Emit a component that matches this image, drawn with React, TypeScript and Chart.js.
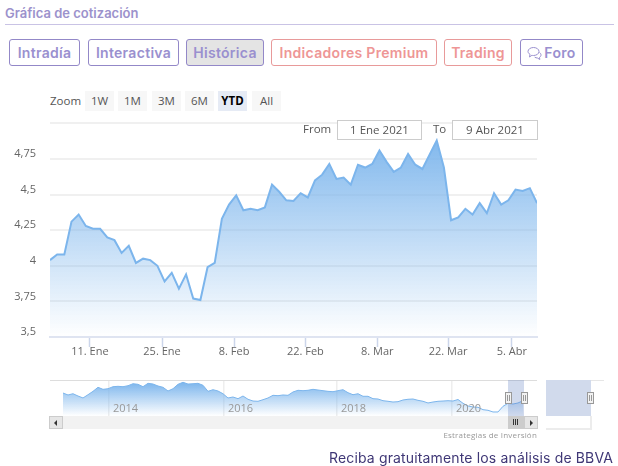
import React, { useEffect, useRef } from "react";
import { Chart, registerables } from "chart.js";

Chart.register(...registerables);

const priceValues = [
  4.04, 4.08, 4.08, 4.31, 4.36, 4.28, 4.26, 4.26, 4.2, 4.18, 4.09, 4.14, 4.02, 4.05, 4.04, 4.0, 3.89, 3.95, 3.84, 3.94,
  3.77, 3.76, 3.99, 4.02, 4.33, 4.43, 4.495, 4.39, 4.4, 4.39, 4.41, 4.57, 4.52, 4.46, 4.455, 4.51, 4.48, 4.6, 4.64,
  4.715, 4.61, 4.62, 4.57, 4.71, 4.69, 4.715, 4.81, 4.73, 4.66, 4.69, 4.785, 4.71, 4.68, 4.78, 4.88, 4.69, 4.32, 4.34,
  4.4, 4.36, 4.44, 4.37, 4.51, 4.43, 4.46, 4.535, 4.525, 4.545, 4.44,
];
const xTickSessions = [5.58, 15.64, 25.7, 35.66, 45.7, 55.6, 64.5];
const xTickLabels = ["11. Ene", "25. Ene", "8. Feb", "22. Feb", "8. Mar", "22. Mar", "5. Abr"];
const yTickLabels = ["3,5", "3,75", "4", "4,25", "4,5", "4,75", ""];

const navValues = [
  5.91, 5.55, 5.78, 5.36, 5.0, 5.6, 6.22, 6.96, 6.59, 6.7, 7.07, 7.14, 7.07, 7.25, 7.62, 7.51, 7.07, 7.69, 7.56, 7.2,
  6.96, 6.28, 6.7, 7.51, 7.88, 7.56, 7.62, 7.69, 7.33, 6.22, 6.52, 6.28, 5.78, 5.0, 5.18, 4.87, 5.36, 4.76, 4.44, 4.39,
  4.68, 5.0, 5.49, 5.42, 5.55, 5.49, 6.1, 6.41, 6.34, 6.41, 6.59, 6.46, 6.34, 6.22, 6.15, 6.34, 6.52, 5.97, 5.6, 5.78,
  5.31, 5.31, 4.87, 4.81, 4.5, 4.39, 4.26, 4.32, 4.63, 4.76, 4.81, 4.57, 4.39, 4.08, 4.26, 4.39, 4.44, 4.5, 4.44, 4.72,
  4.02, 3.53, 3.34, 3.29, 2.85, 2.74, 2.43, 2.43, 3.47, 4.02, 3.89, 4.08, 4.5,
];
const navYearPositions = [9.2, 32.2, 54.8, 77.8];
const navYearLabels = ["2014", "2016", "2018", "2020"];

const tabs = [
  { label: "Intradía", left: 9, width: 71, tone: "p" },
  { label: "Interactiva", left: 88, width: 91, tone: "p" },
  { label: "Histórica", left: 186, width: 78, tone: "a" },
  { label: "Indicadores Premium", left: 271, width: 166, tone: "r" },
  { label: "Trading", left: 444, width: 68, tone: "r" },
  { label: "Foro", left: 520, width: 63, tone: "f" },
];
const rangeButtons = [
  { label: "1W", left: 85 },
  { label: "1M", left: 118 },
  { label: "3M", left: 152 },
  { label: "6M", left: 185 },
  { label: "YTD", left: 218 },
  { label: "All", left: 252 },
];

const CHART_FONT = '"Open Sans", sans-serif';
const HEAD_FONT = 'Inter, "Noto Sans", sans-serif';

const box = (s: React.CSSProperties): React.CSSProperties => ({ position: "absolute", boxSizing: "border-box", ...s });

const navLabelsPlugin = {
  id: "navLabels",
  afterDatasetsDraw(chart: any) {
    const { ctx, scales } = chart;
    ctx.save();
    ctx.font = `11px ${CHART_FONT}`;
    ctx.fillStyle = "#999999";
    ctx.textBaseline = "alphabetic";
    navYearPositions.forEach((p, i) => {
      ctx.fillText(navYearLabels[i], scales.x.getPixelForValue(p) + 4, 34);
    });
    ctx.restore();
  },
};

export default function App() {
  const mainRef = useRef<HTMLCanvasElement>(null);
  const navRef = useRef<HTMLCanvasElement>(null);

  useEffect(() => {
    const main = new Chart(mainRef.current!, {
      type: "line",
      data: {
        labels: priceValues.map((_, i) => i),
        datasets: [
          {
            data: priceValues.map((y, x) => ({ x, y })),
            borderColor: "#7cb5ec",
            borderWidth: 2,
            pointRadius: 0,
            tension: 0,
            fill: "start",
            backgroundColor: (c: any) => {
              const { chart } = c;
              if (!chart.chartArea) return "rgba(124,181,236,0.5)";
              const top = chart.scales.y.getPixelForValue(Math.max(...priceValues));
              const g = chart.ctx.createLinearGradient(0, top, 0, chart.chartArea.bottom);
              g.addColorStop(0, "rgba(124,181,236,0.95)");
              g.addColorStop(1, "rgba(124,181,236,0)");
              return g;
            },
          },
        ],
      },
      options: {
        animation: false,
        responsive: false,
        layout: { padding: { top: 13.4, right: 81, left: 0, bottom: 0 } },
        plugins: { legend: { display: false }, tooltip: { enabled: false } },
        scales: {
          x: {
            type: "linear",
            min: 0,
            max: priceValues.length - 1,
            afterFit: (s: any) => {
              s.height = 33;
              s.paddingLeft = 0;
              s.paddingRight = 0;
            },
            afterBuildTicks: (s: any) => {
              s.ticks = xTickSessions.map((value) => ({ value }));
            },
            grid: { drawOnChartArea: false, tickLength: 10, tickColor: "#ccd6eb", tickWidth: 1.5 },
            border: { color: "#dfe4f1", width: 2 },
            ticks: {
              autoSkip: false,
              maxRotation: 0,
              padding: -2,
              color: "#666666",
              font: { family: CHART_FONT, size: 11 },
              callback: (_v: any, i: number) => xTickLabels[i],
            },
          },
          y: {
            min: 3.5,
            max: 5,
            afterFit: (s: any) => {
              s.width = 50;
              s.paddingTop = 0;
              s.paddingBottom = 0;
            },
            grid: { color: "#f0f0f0", lineWidth: 2, drawTicks: false },
            border: { display: false },
            ticks: {
              stepSize: 0.25,
              padding: 14,
              labelOffset: -5,
              color: "#666666",
              font: { family: CHART_FONT, size: 11 },
              callback: (_v: any, i: number) => yTickLabels[i],
            },
          },
        },
      },
    } as any);

    const nav = new Chart(navRef.current!, {
      type: "line",
      data: {
        labels: navValues.map((_, i) => i),
        datasets: [
          {
            data: navValues.map((y, x) => ({ x, y })),
            borderColor: "#7cb5ec",
            borderWidth: 1,
            pointRadius: 0,
            tension: 0,
            fill: "start",
            backgroundColor: (c: any) => {
              const { chart } = c;
              if (!chart.chartArea) return "rgba(124,181,236,0.5)";
              const top = chart.scales.y.getPixelForValue(Math.max(...navValues));
              const g = chart.ctx.createLinearGradient(0, top, 0, chart.chartArea.bottom);
              g.addColorStop(0, "rgba(124,181,236,1)");
              g.addColorStop(1, "rgba(124,181,236,0)");
              return g;
            },
          },
        ],
      },
      options: {
        animation: false,
        responsive: false,
        layout: { padding: { top: 2, right: 81, left: 50, bottom: 0 } },
        plugins: { legend: { display: false }, tooltip: { enabled: false } },
        scales: {
          x: {
            type: "linear",
            min: -2.6,
            max: 94.8,
            afterBuildTicks: (s: any) => {
              s.ticks = navYearPositions.map((value) => ({ value }));
            },
            grid: { color: "#eeeeee", lineWidth: 1.5, drawTicks: false },
            border: { display: false },
            ticks: { display: false },
          },
          y: {
            display: false,
            min: 1.69,
            max: 8.3,
          },
        },
      },
      plugins: [navLabelsPlugin],
    } as any);

    return () => {
      main.destroy();
      nav.destroy();
    };
  }, []);

  const handle = (left: number) => (
    <div
      style={box({
        left,
        top: 392,
        width: 7,
        height: 12,
        background: "#f2f2f2",
        border: "1px solid #999999",
        zIndex: 5,
      })}
    >
      <div style={box({ left: 1, top: 2, width: 1, height: 6, background: "#999999" })} />
      <div style={box({ left: 3, top: 2, width: 1, height: 6, background: "#999999" })} />
    </div>
  );

  return (
    <div
      style={box({
        left: 0,
        top: 0,
        width: 618,
        height: 466,
        overflow: "hidden",
        background: "#ffffff",
        fontFamily: CHART_FONT,
      })}
    >
      <div
        style={box({
          left: 5,
          top: 4,
          fontFamily: HEAD_FONT,
          fontWeight: 600,
          fontSize: 13,
          lineHeight: "18px",
          color: "#9c92cc",
          whiteSpace: "nowrap",
        })}
      >
        Gráfica de cotización
      </div>
      <div style={box({ left: 5, top: 24, width: 609, height: 1, background: "#c9c3e5" })} />

      {tabs.map((t) => {
        const red = t.tone === "r";
        return (
          <div
            key={t.label}
            style={box({
              left: t.left,
              top: 39,
              width: t.width,
              height: 27,
              border: `1px solid ${red ? "#e89a9a" : "#9388c8"}`,
              borderRadius: 3,
              background: t.tone === "a" ? "#e4e4e4" : "#ffffff",
              color: red ? "#ee9696" : "#9a90cf",
              fontFamily: HEAD_FONT,
              fontWeight: 600,
              fontSize: 14,
              letterSpacing: 0.3,
              lineHeight: "25px",
              textAlign: "center",
              whiteSpace: "nowrap",
            })}
          >
            {t.tone === "f" ? (
              <>
                <svg width="15" height="15" viewBox="0 0 15 15" style={{ verticalAlign: "-3px", marginRight: 2 }}>
                  <path
                    d="M6.5 1.5c3 0 5.500 1.700 5.500 4s-2.500 4-5.500 4c-.6 0-1.100 0-1.600-.2L2.500 11l.5-2.700C1.800 7.600 1 6.600 1 5.500c0-2.300 2.500-4 5.500-4z"
                    fill="none"
                    stroke="#9a90cf"
                    strokeWidth="1"
                  />
                  <path d="M12.500 6.500c1 .7 1.500 1.500 1.500 2.500 0 1-.6 1.800-1.500 2.400l.3 2.100-2.300-1.500c-1 0-2-.3-2.800-.8" fill="none" stroke="#9a90cf" strokeWidth="1" />
                </svg>
                {t.label}
              </>
            ) : (
              t.label
            )}
          </div>
        );
      })}

      <div style={box({ left: 50, top: 92, fontSize: 11.5, lineHeight: "18px", color: "#555555" })}>Zoom</div>
      {rangeButtons.map((b) => {
        const active = b.label === "YTD";
        return (
          <div
            key={b.label}
            style={box({
              left: b.left,
              top: 91,
              width: 29,
              height: 20,
              background: active ? "#e6ebf5" : "#f7f7f7",
              color: active ? "#000000" : "#555555",
              fontWeight: active ? 700 : 400,
              fontSize: 11.5,
              lineHeight: "20px",
              textAlign: "center",
            })}
          >
            {b.label}
          </div>
        );
      })}

      <canvas ref={mainRef} width={618} height={260} style={box({ left: 0, top: 110, display: "block", width: 618, height: 260 })} />

      <div style={box({ left: 303, top: 120, fontSize: 11.5, lineHeight: "18px", color: "#555555" })}>From</div>
      <div
        style={box({
          left: 337,
          top: 120,
          width: 85,
          height: 20,
          background: "#ffffff",
          border: "1px solid #cccccc",
          fontSize: 11.5,
          lineHeight: "18px",
          textAlign: "center",
          color: "#555555",
        })}
      >
        1 Ene 2021
      </div>
      <div style={box({ left: 433, top: 120, fontSize: 11.5, lineHeight: "18px", color: "#555555" })}>To</div>
      <div
        style={box({
          left: 452,
          top: 120,
          width: 86,
          height: 20,
          background: "#ffffff",
          border: "1px solid #cccccc",
          fontSize: 11.5,
          lineHeight: "18px",
          textAlign: "center",
          color: "#555555",
        })}
      >
        9 Abr 2021
      </div>

      <div style={box({ left: 50, top: 380, width: 487, height: 1, background: "#dddddd", zIndex: 2 })} />
      <canvas ref={navRef} width={618} height={38} style={box({ left: 0, top: 378, display: "block", width: 618, height: 38 })} />

      <div style={box({ left: 49, top: 416, width: 488, height: 13, background: "#f2f2f2" })} />
      <div style={box({ left: 49, top: 416, width: 14, height: 13, background: "#e6e6e6", border: "1px solid #cccccc" })}>
        <div style={box({ left: 4, top: 3, width: 0, height: 0, borderTop: "3px solid transparent", borderBottom: "3px solid transparent", borderRight: "3px solid #333333" })} />
      </div>
      <div style={box({ left: 508, top: 416, width: 16, height: 13, background: "#cccccc" })}>
        <div style={box({ left: 5, top: 3, width: 1, height: 6, background: "#333333" })} />
        <div style={box({ left: 7, top: 3, width: 1, height: 6, background: "#333333" })} />
        <div style={box({ left: 9, top: 3, width: 1, height: 6, background: "#333333" })} />
      </div>
      <div style={box({ left: 524, top: 416, width: 14, height: 13, background: "#e6e6e6", border: "1px solid #cccccc" })}>
        <div style={box({ left: 5, top: 3, width: 0, height: 0, borderTop: "3px solid transparent", borderBottom: "3px solid transparent", borderLeft: "3px solid #333333" })} />
      </div>

      <div style={box({ left: 508, top: 380, width: 16, height: 36, background: "rgba(102,133,194,0.3)", zIndex: 3 })} />
      {handle(505)}
      {handle(521)}

      <div style={box({ left: 546, top: 380, width: 58, height: 1, background: "#e6e6e6" })} />
      <div style={box({ left: 546, top: 380, width: 45, height: 36, background: "#d1daec" })} />
      <div style={box({ left: 546, top: 428, width: 45, height: 2, background: "#ececec" })} />
      <div style={box({ left: 590, top: 416, width: 2, height: 14, background: "#ececec" })} />
      {handle(587)}

      <div
        style={box({
          right: 81,
          top: 429,
          fontSize: 8,
          lineHeight: "12px",
          letterSpacing: 0.2,
          color: "#999999",
          whiteSpace: "nowrap",
        })}
      >
        Estrategias de Inversión
      </div>
      <div
        style={box({
          left: 329,
          top: 449,
          fontFamily: HEAD_FONT,
          fontSize: 14,
          letterSpacing: 0.15,
          lineHeight: "18px",
          color: "#3f3776",
          whiteSpace: "nowrap",
        })}
      >
        Reciba gratuitamente los análisis de BBVA
      </div>
    </div>
  );
}
